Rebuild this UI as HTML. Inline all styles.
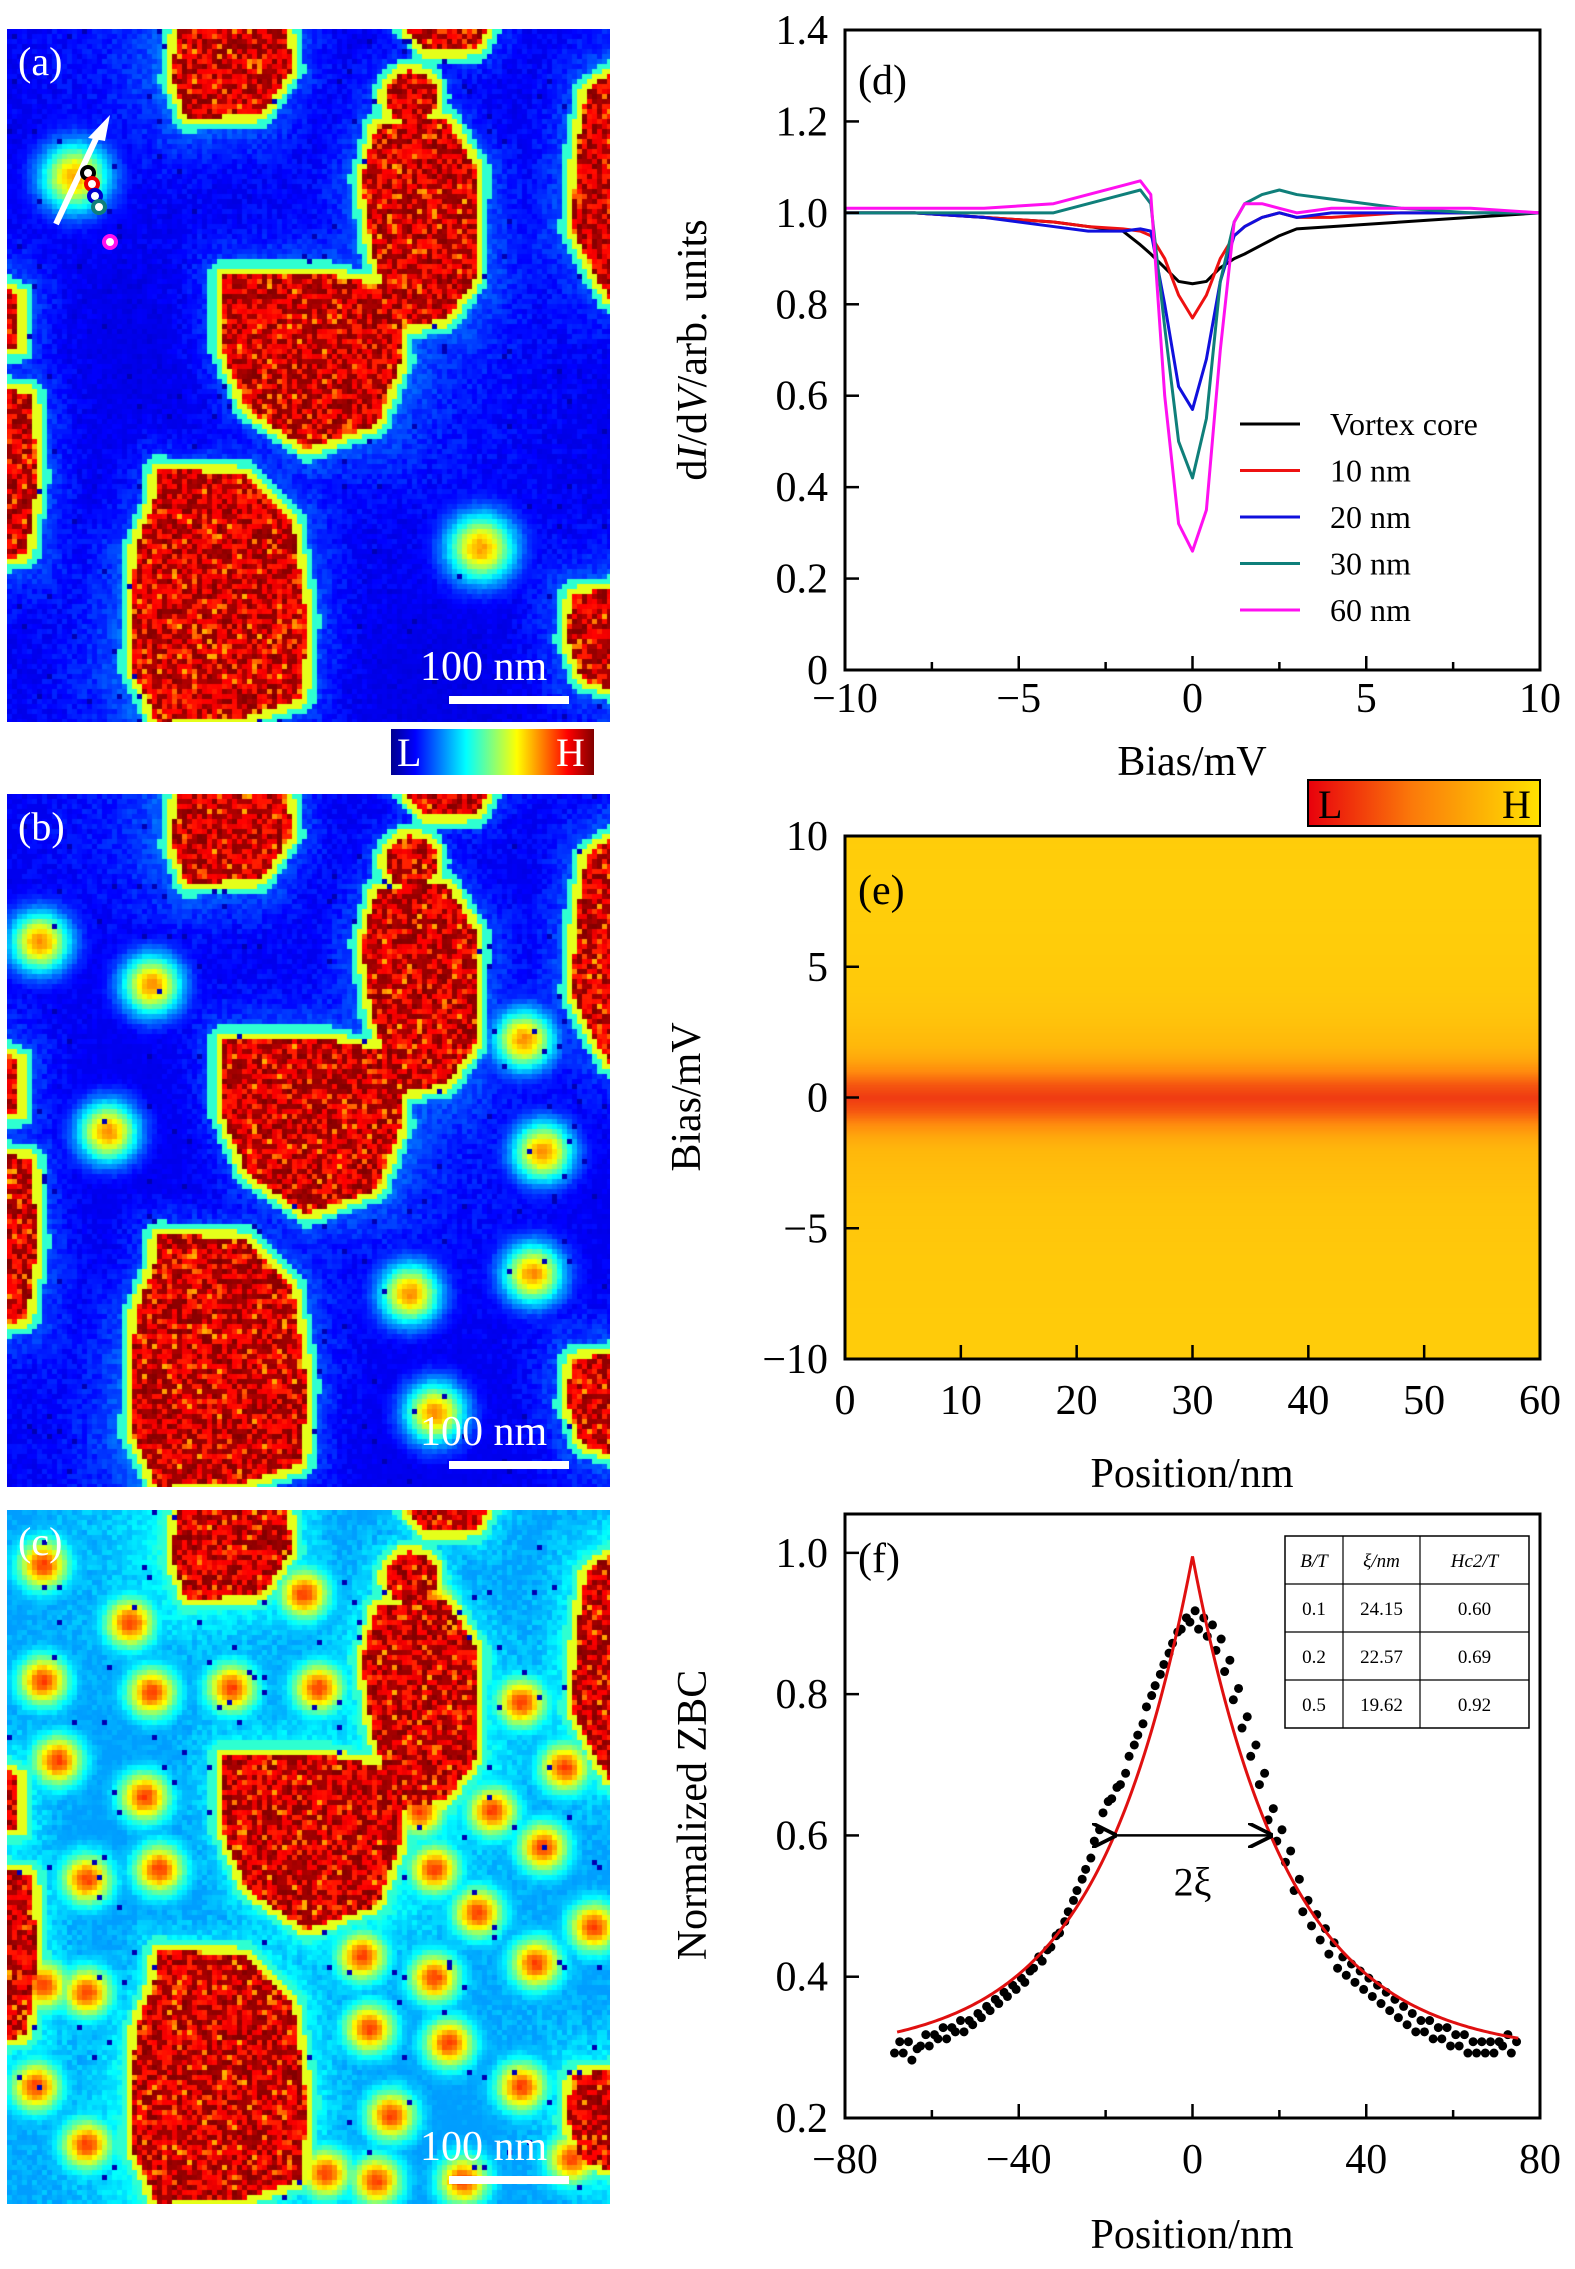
<!DOCTYPE html>
<html><head><meta charset="utf-8"><style>
html,body{margin:0;padding:0;background:#fff}
#root{position:relative;width:1575px;height:2269px;overflow:hidden;font-family:"Liberation Serif",serif}
canvas{position:absolute}
svg{position:absolute;left:0;top:0}
</style></head><body>
<div id="root">
<canvas id="mapA" width="603" height="693" style="left:7px;top:29px"></canvas>
<canvas id="mapB" width="603" height="693" style="left:7px;top:794px"></canvas>
<canvas id="mapC" width="603" height="694" style="left:7px;top:1510px"></canvas>
<svg id="svg" width="1575" height="2269" xmlns="http://www.w3.org/2000/svg" font-family="Liberation Serif, serif">
<defs>
<linearGradient id="jet" x1="0" x2="1" y1="0" y2="0">
<stop offset="0" stop-color="#00008f"/><stop offset="0.12" stop-color="#0000ff"/><stop offset="0.37" stop-color="#00ffff"/><stop offset="0.62" stop-color="#ffff00"/><stop offset="0.87" stop-color="#ff0000"/><stop offset="1" stop-color="#800000"/>
</linearGradient>
<linearGradient id="hot" x1="0" x2="1" y1="0" y2="0">
<stop offset="0" stop-color="#e8000c"/><stop offset="0.45" stop-color="#fb7a0a"/><stop offset="1" stop-color="#ffe200"/>
</linearGradient>
<marker id="ah" markerWidth="10" markerHeight="10" refX="9" refY="5" orient="auto"><path d="M0,0 L10,5 L0,10" fill="none" stroke="#000" stroke-width="1.5"/></marker>
</defs>
<g id="overlay"></g>
<g id="chartD"></g>
<g id="chartE"></g>
<g id="chartF"></g>
</svg>
</div>
<script>
// ---------- Panel (d) data ----------
const dBias = [-10,-8,-6,-4,-3,-2,-1.5,-1.2,-0.8,-0.4,0,0.4,0.8,1.2,1.5,2,2.5,3,4,6,8,10];
const dCore = [1.0,1.0,0.99,0.98,0.97,0.96,0.93,0.91,0.88,0.85,0.845,0.85,0.88,0.90,0.91,0.93,0.95,0.965,0.97,0.98,0.99,1.0];
const d10 = [1.0,1.0,0.99,0.98,0.97,0.965,0.96,0.95,0.90,0.82,0.77,0.82,0.90,0.95,0.97,0.99,1.0,0.99,0.99,1.0,1.0,1.0];
const d20 = [1.0,1.0,0.99,0.97,0.96,0.96,0.965,0.96,0.80,0.62,0.57,0.68,0.85,0.95,0.97,0.99,1.0,0.99,1.0,1.0,1.0,1.0];
const d30 = [1.0,1.0,1.0,1.0,1.02,1.04,1.05,1.02,0.75,0.50,0.42,0.55,0.85,0.98,1.02,1.04,1.05,1.04,1.03,1.01,1.0,1.0];
const d60 = [1.01,1.01,1.01,1.02,1.04,1.06,1.07,1.04,0.60,0.32,0.26,0.35,0.70,0.98,1.02,1.02,1.01,1.0,1.01,1.01,1.01,1.0];
const dNames = ["Vortex core","10 nm","20 nm","30 nm","60 nm"];
const dColors = ["#000000","#ee1111","#1010dd","#0f7f7a","#ff10f0"];
const dXTicks = [-10,-5,0,5,10];
const dYTicks = [0,0.2,0.4,0.6,0.8,1.0,1.2,1.4];
// ---------- Panel (e) data ----------
const eBias = [-10,-8,-6,-4,-3,-2,-1.5,-1,-0.5,0,0.5,1,1.5,2,3,4,6,8,10];
const eLevel = [0.97,0.96,0.95,0.93,0.9,0.86,0.78,0.62,0.35,0.2,0.35,0.62,0.78,0.86,0.92,0.95,0.97,0.98,0.97];
const eXTicks = [0,10,20,30,40,50,60];
const eYTicks = [-10,-5,0,5,10];
// ---------- Panel (f) data ----------
const fPos = [-68,-66,-64,-62,-60,-58,-56,-54,-52,-50,-48,-46,-44,-42,-40,-38,-36,-34,-32,-30,-28,-26,-24,-22,-20,-18,-16,-14,-12,-10,-8,-6,-4,-2,0,2,4,6,8,10,12,14,16,18,20,22,24,26,28,30,32,34,36,38,40,42,44,46,48,50,52,54,56,58,60,62,64,66,68,70,72,74];
const fZBC = [0.30,0.30,0.29,0.31,0.31,0.32,0.32,0.33,0.33,0.34,0.35,0.36,0.37,0.38,0.39,0.40,0.42,0.43,0.45,0.47,0.50,0.53,0.56,0.60,0.64,0.66,0.68,0.72,0.75,0.79,0.82,0.85,0.88,0.90,0.91,0.90,0.89,0.87,0.84,0.80,0.76,0.72,0.68,0.63,0.60,0.57,0.53,0.50,0.48,0.46,0.44,0.42,0.41,0.40,0.39,0.38,0.37,0.36,0.35,0.34,0.33,0.33,0.32,0.32,0.31,0.31,0.30,0.30,0.30,0.30,0.31,0.30];
const fFitBase = 0.29, fFitAmp = 0.705, fFitXi = 21.9;
const fXTicks = [-80,-40,0,40,80];
const fYTicks = [0.2,0.4,0.6,0.8,1.0];
const tableRows = [["B/T","ξ/nm","Hc2/T"],["0.1","24.15","0.60"],["0.2","22.57","0.69"],["0.5","19.62","0.92"]];

const NS="http://www.w3.org/2000/svg";
function mk(parent,tag,attrs,text){const e=document.createElementNS(NS,tag);for(const k in attrs)e.setAttribute(k,attrs[k]);if(text!==undefined)e.textContent=text;parent.appendChild(e);return e;}
function fmt(v){return v<0?"\u2212"+Math.abs(v):String(v);}

// ---------- maps ----------
let seed=12345;function rnd(){seed=(seed*1103515245+12345)&0x7fffffff;return seed/0x7fffffff;}
function jet(v){v=Math.max(0,Math.min(1,v));const c=x=>Math.round(255*Math.max(0,Math.min(1,x)));
return [c(1.5-Math.abs(4*v-3)),c(1.5-Math.abs(4*v-2)),c(1.5-Math.abs(4*v-1))];}
function circ(cx,cy,r){const p=[];for(let i=0;i<16;i++){const a=i/16*Math.PI*2;p.push([cx+r*Math.cos(a),cy+r*Math.sin(a)]);}return p;}
const grains=[
[[170,0],[280,0],[285,40],[255,85],[180,90],[165,50]],
circ(404,68,26),
[[370,95],[440,90],[470,140],[468,250],[440,290],[390,300],[365,220],[355,150]],
[[215,245],[320,245],[390,260],[395,330],[370,395],[300,420],[240,380],[215,320]],
[[150,440],[240,445],[285,490],[300,590],[295,670],[235,690],[150,693],[125,640],[128,520],[148,470]],
[[580,60],[603,45],[603,270],[585,240],[565,200],[570,120]],
[[565,565],[603,560],[603,660],[575,650],[560,610]],
[[0,360],[25,365],[30,450],[20,525],[0,530]],
[[0,260],[12,265],[12,320],[0,320]],
[[400,0],[480,0],[470,20],[420,22]]];
function inPoly(x,y,p){let c=false;for(let i=0,j=p.length-1;i<p.length;j=i++){if(((p[i][1]>y)!=(p[j][1]>y))&&(x<(p[j][0]-p[i][0])*(y-p[i][1])/(p[j][1]-p[i][1])+p[i][0]))c=!c;}return c;}
function segD(x,y,a,b){const dx=b[0]-a[0],dy=b[1]-a[1];let t=((x-a[0])*dx+(y-a[1])*dy)/(dx*dx+dy*dy||1);t=Math.max(0,Math.min(1,t));const px=a[0]+t*dx-x,py=a[1]+t*dy-y;return Math.sqrt(px*px+py*py);}
function polyD(x,y,p){let m=1e9;for(let i=0,j=p.length-1;i<p.length;j=i++)m=Math.min(m,segD(x,y,p[i],p[j]));return m;}
function drawMap(id,vort,bg,sig,amp){
 const cv=document.getElementById(id),ctx=cv.getContext('2d');const W=cv.width,H=cv.height,s=5;
 for(let y=0;y<H;y+=s)for(let x=0;x<W;x+=s){
  const cx=x+2.5,cy=y+2.5;let v=bg+rnd()*0.06+0.03*Math.sin(cx/90)*Math.cos(cy/110);
  let inside=false,md=1e9;
  for(const g of grains){if(inPoly(cx,cy,g)){inside=true;break;}md=Math.min(md,polyD(cx,cy,g));}
  if(inside){const r=rnd();v=r<0.45?0.95+rnd()*0.05:(r<0.9?0.84+rnd()*0.06:0.7+rnd()*0.12);}
  else{
   if(md<7)v=Math.max(v,0.6);else if(md<13)v=Math.max(v,0.42);else v+=0.14*Math.exp(-md/28);
   for(const p of vort){const dx=cx-p[0],dy=cy-p[1];v=Math.max(v,bg+amp*Math.exp(-(dx*dx+dy*dy)/(sig*sig))+rnd()*0.03);}
   if(rnd()<0.01)v=0.05;
  }
  const c=jet(v);ctx.fillStyle=`rgb(${c[0]},${c[1]},${c[2]})`;ctx.fillRect(x,y,s,s);
 }
}
const vA=[[68,148],[474,519]];
const vB=[[33,148],[145,191],[101,338],[536,358],[403,500],[526,480],[428,619],[517,246]];
const cRaw=[[30,1080],[90,1120],[30,1160],[105,1168],[40,1215],[100,1240],[60,1297],[110,1290],[30,1370],[25,1440],[210,1100],[160,1165],[220,1165],[298,1108],[360,1175],[290,1250],[340,1250],[390,1220],[375,1275],[300,1290],[330,1320],[250,1350],[300,1365],[370,1355],[410,1330],[255,1400],[310,1410],[360,1440],[270,1460],[320,1505],[395,1490],[260,1505],[225,1500],[60,1375],[60,1480],[120,1500],[160,1470]];
const vC=cRaw.map(p=>[(p[0]-5)*1.449,(p[1]-1042)*1.449]);
drawMap('mapA',vA,0.08,34,0.62);
drawMap('mapB',vB,0.08,30,0.64);
drawMap('mapC',vC,0.25,24,0.55);

const ov=document.getElementById('overlay');
[["(a)",75,"label-a"],["(b)",840,"label-b"],["(c)",1555,"label-c"]].forEach(l=>{
 const t=mk(ov,'text',{x:18,y:l[1],'font-size':40,fill:'#fff'},l[0]);
 
 
});
[700,1465,2180].forEach((y,i)=>{
 const r=mk(ov,'rect',{x:449,y:y-4,width:120,height:8,fill:'#fff'});
 
 
 const t=mk(ov,'text',{x:420,y:y-20,'font-size':42,fill:'#fff'},'100 nm');
 
 
});
mk(ov,'line',{x1:56,y1:224,x2:100,y2:130,stroke:'#fff','stroke-width':6});
const ah=mk(ov,'path',{d:'M110,115 L88,138 L105,141 Z',fill:'#fff'});


[[88,173,'#000'],[92,184,'#e00'],[95,196,'#00c'],[99,207,'#0f7f7a'],[110,242,'#ff10f0']].forEach(m=>{
 const c=mk(ov,'circle',{cx:m[0],cy:m[1],r:6,fill:'#fff',stroke:m[2],'stroke-width':4});
 
 
});
const cba=mk(ov,'rect',{x:391,y:729,width:203,height:46,fill:'url(#jet)'});


mk(ov,'text',{x:397,y:766,'font-size':40,fill:'#fff'},'L');
mk(ov,'text',{x:556,y:766,'font-size':40,fill:'#fff'},'H');

// ---------- chart (d) ----------
(function(){
 const g=document.getElementById('chartD');
 const L=845,R=1540,T=30,B=670;
 const xs=v=>L+(v+10)/20*(R-L), ys=v=>B-v/1.4*(B-T);
 [dCore,d10,d20,d30,d60].forEach((s,i)=>{
  const p=mk(g,'polyline',{points:dBias.map((b,k)=>xs(b)+','+ys(s[k])).join(' '),fill:'none',stroke:dColors[i],'stroke-width':3,'stroke-linejoin':'round'});
  
  
 });
 const box=mk(g,'rect',{x:L,y:T,width:R-L,height:B-T,fill:'none',stroke:'#000','stroke-width':3});
 
 
 dXTicks.forEach(v=>{mk(g,'line',{x1:xs(v),x2:xs(v),y1:B,y2:B-14,stroke:'#000','stroke-width':2.5});
  const t=mk(g,'text',{x:xs(v),y:712,'font-size':42,'text-anchor':'middle'},fmt(v));
  
  });
 [-7.5,-2.5,2.5,7.5].forEach(v=>mk(g,'line',{x1:xs(v),x2:xs(v),y1:B,y2:B-8,stroke:'#000','stroke-width':2.5}));
 dYTicks.forEach(v=>{mk(g,'line',{x1:L,x2:L+14,y1:ys(v),y2:ys(v),stroke:'#000','stroke-width':2.5});
  const t=mk(g,'text',{x:828,y:ys(v)+14,'font-size':42,'text-anchor':'end'},v===0?'0':v.toFixed(1));
  
  });
 const xt=mk(g,'text',{x:1192,y:775,'font-size':42,'text-anchor':'middle'},'Bias/mV');
 
 
 const yt=mk(g,'text',{x:0,y:0,'font-size':42,'text-anchor':'middle',transform:'translate(706,350) rotate(-90)'});
 yt.innerHTML='d<tspan font-style="italic">I</tspan>/d<tspan font-style="italic">V</tspan>/arb. units';
 
 
 const pl=mk(g,'text',{x:858,y:94,'font-size':42},'(d)');
 
 
 dNames.forEach((n,i)=>{const y=424+i*46.5;
  mk(g,'line',{x1:1240,x2:1300,y1:y,y2:y,stroke:dColors[i],'stroke-width':3});
  const t=mk(g,'text',{x:1330,y:y+11,'font-size':32},n);
  
  });
})();

// ---------- chart (e) ----------
(function(){
 const g=document.getElementById('chartE');
 const L=845,R=1540,T=836,B=1359;
 const xs=v=>L+v/60*(R-L), ys=v=>B-(v+10)/20*(B-T);
 const hot=l=>{const r=Math.round(232+23*Math.min(1,l*1.6)),gg=Math.round(20+190*l),b=Math.round(10*(1-l)+10);return `rgb(${r},${gg},${b})`;};
 for(let k=0;k<eBias.length-1;k++){
  const a=eBias[k],b=eBias[k+1];
  const steps=8;
  for(let s=0;s<steps;s++){
   const v0=a+(b-a)*s/steps,v1=a+(b-a)*(s+1)/steps;
   const l=eLevel[k]+(eLevel[k+1]-eLevel[k])*(s+0.5)/steps;
   const r=mk(g,'rect',{x:L,y:ys(v1),width:R-L,height:ys(v0)-ys(v1)+0.6,fill:hot(l)});
   
   
  }
 }
 const box=mk(g,'rect',{x:L,y:T,width:R-L,height:B-T,fill:'none',stroke:'#000','stroke-width':3});
 
 
 eXTicks.forEach(v=>{mk(g,'line',{x1:xs(v),x2:xs(v),y1:B,y2:B-14,stroke:'#000','stroke-width':2.5});
  const t=mk(g,'text',{x:xs(v),y:1414,'font-size':42,'text-anchor':'middle'},fmt(v));
  
  });
 eYTicks.forEach(v=>{mk(g,'line',{x1:L,x2:L+14,y1:ys(v),y2:ys(v),stroke:'#000','stroke-width':2.5});
  const t=mk(g,'text',{x:828,y:ys(v)+14,'font-size':42,'text-anchor':'end'},fmt(v));
  
  });
 const xt=mk(g,'text',{x:1192,y:1487,'font-size':42,'text-anchor':'middle'},'Position/nm');
 
 
 const yt=mk(g,'text',{x:0,y:0,'font-size':42,'text-anchor':'middle',transform:'translate(700,1097) rotate(-90)'},'Bias/mV');
 
 
 const pl=mk(g,'text',{x:858,y:904,'font-size':42},'(e)');
 
 
 const cb=mk(g,'rect',{x:1308,y:780,width:232,height:46,fill:'url(#hot)',stroke:'#000','stroke-width':2});
 
 
 mk(g,'text',{x:1318,y:818,'font-size':40,fill:'#000'},'L');
 mk(g,'text',{x:1502,y:818,'font-size':40,fill:'#000'},'H');
})();

// ---------- chart (f) ----------
(function(){
 const g=document.getElementById('chartF');
 const L=845,R=1540,T=1514,B=2118;
 const ymin=0.2,ymax=1.055;
 const xs=v=>L+(v+80)/160*(R-L), ys=v=>B-(v-ymin)/(ymax-ymin)*(B-T);
 fPos.forEach((p,i)=>{
  [-0.6,0.6].forEach((o,j)=>{
   const d=mk(g,'circle',{cx:xs(p+o),cy:ys(fZBC[i]+(j?0.008:-0.008)),r:4.5,fill:'#000'});
   
   
  });
 });
 const pts=[];for(let x=-68;x<=75;x+=0.5)pts.push(xs(x)+','+ys(fFitBase+fFitAmp*Math.exp(-Math.abs(x)/fFitXi)));
 const fit=mk(g,'polyline',{points:pts.join(' '),fill:'none',stroke:'#e01010','stroke-width':3});
 
 
 const box=mk(g,'rect',{x:L,y:T,width:R-L,height:B-T,fill:'none',stroke:'#000','stroke-width':3});
 
 
 fXTicks.forEach(v=>{mk(g,'line',{x1:xs(v),x2:xs(v),y1:B,y2:B-14,stroke:'#000','stroke-width':2.5});
  const t=mk(g,'text',{x:xs(v),y:2173,'font-size':42,'text-anchor':'middle'},fmt(v));
  
  });
 [-60,-20,20,60].forEach(v=>mk(g,'line',{x1:xs(v),x2:xs(v),y1:B,y2:B-8,stroke:'#000','stroke-width':2.5}));
 fYTicks.forEach(v=>{mk(g,'line',{x1:L,x2:L+14,y1:ys(v),y2:ys(v),stroke:'#000','stroke-width':2.5});
  const t=mk(g,'text',{x:828,y:ys(v)+14,'font-size':42,'text-anchor':'end'},v.toFixed(1));
  
  });
 const xt=mk(g,'text',{x:1192,y:2248,'font-size':42,'text-anchor':'middle'},'Position/nm');
 
 
 const yt=mk(g,'text',{x:0,y:0,'font-size':42,'text-anchor':'middle',transform:'translate(706,1815) rotate(-90)'},'Normalized ZBC');
 
 
 const pl=mk(g,'text',{x:858,y:1572,'font-size':42},'(f)');
 
 
 const ar=mk(g,'line',{x1:xs(-18),x2:xs(18),y1:ys(0.6),y2:ys(0.6),stroke:'#000','stroke-width':2.5,'marker-start':'url(#ah)','marker-end':'url(#ah)'});
 
 
 const xl=mk(g,'text',{x:xs(0),y:ys(0.6)+60,'font-size':40,'text-anchor':'middle'},'2ξ');
 
 
 const cx=[1285,1343,1420,1529],ry=[1536,1584,1632,1680,1728];
 const tb=mk(g,'rect',{x:1285,y:1536,width:244,height:192,fill:'#fff',stroke:'#000','stroke-width':1.5});
 
 
 ry.slice(1,4).forEach(y=>mk(g,'line',{x1:1285,x2:1529,y1:y,y2:y,stroke:'#000','stroke-width':1.2}));
 cx.slice(1,3).forEach(x=>mk(g,'line',{x1:x,x2:x,y1:1536,y2:1728,stroke:'#000','stroke-width':1.2}));
 tableRows.forEach((row,i)=>row.forEach((c,j)=>{
  const t=mk(g,'text',{x:(cx[j]+cx[j+1])/2,y:ry[i]+31,'font-size':19,'text-anchor':'middle','font-style':i===0?'italic':'normal'},c);
  
  
 }));
})();
</script>
</body></html>
